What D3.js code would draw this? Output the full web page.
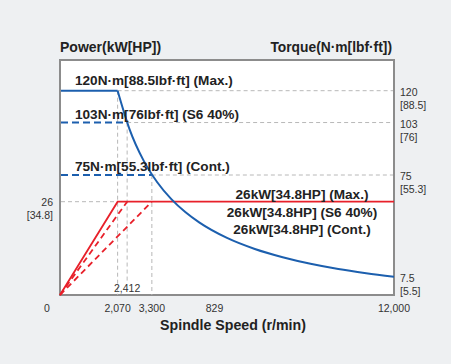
<!DOCTYPE html>
<html><head><meta charset="utf-8">
<script src="https://cdn.jsdelivr.net/npm/d3@7"></script>
<style>
html,body{margin:0;padding:0;background:#eef0f2;}
svg{display:block;font-family:"Liberation Sans",Arial,sans-serif;}
</style></head>
<body><svg id="c" width="451" height="364"></svg>
<script>
// ---- data ----
const speedMax = 12000;
const powerMax = 26;               // kW
const cornerSpeeds = [2070, 2412, 3300];   // Max, S6 40%, Cont.
const torqueLevels = [120, 103, 75];       // N·m
const torqueLabels = ["120N·m[88.5lbf·ft] (Max.)", "103N·m[76lbf·ft] (S6 40%)", "75N·m[55.3lbf·ft] (Cont.)"];
const powerLabels = ["26kW[34.8HP] (Max.)", "26kW[34.8HP] (S6 40%)", "26kW[34.8HP] (Cont.)"];
// torque curve (Max.)
const torqueSpeed = [0, 2070, 2500, 3000, 3500, 4000, 4500, 5000, 6000, 7000, 8000, 9000, 10000, 11000, 12000];
const torqueValue = [120, 120, 99.4, 82.8, 71, 62.1, 55.2, 49.7, 41.4, 35.5, 31.1, 27.6, 24.8, 22.6, 20.7];
const rightTickTop = ["120", "103", "75", "7.5"];
const rightTickBottom = ["[88.5]", "[76]", "[55.3]", "[5.5]"];
const xTickValues = [0, 2070, 3300, 5550, 12000];
const xTickLabels = ["0", "2,070", "3,300", "829", "12,000"];

// ---- layout ----
const svg = d3.select("#c");
const L = 60, R = 394, T = 60, B = 295;
const x = d3.scaleLinear().domain([0, speedMax]).range([L, R]);
const yP = d3.scaleLinear().domain([0, powerMax]).range([B, 201.7]);
const yT = d3.scaleLinear().domain([0, 120]).range([315.5, 90.7]);

const blue = "#1c5fae", red = "#e8202a", grid = "#b8b8b8";

svg.append("rect").attr("x", L).attr("y", T).attr("width", R - L).attr("height", B - T)
  .attr("fill", "#fff").attr("stroke", "#8c8c8c").attr("stroke-width", 2);

const g = svg.append("g");
const dash = "4,3";

// grey reference lines
torqueLevels.forEach((t, i) => {
  g.append("line").attr("x1", x(cornerSpeeds[i])).attr("x2", R - 1)
    .attr("y1", yT(t)).attr("y2", yT(t))
    .attr("stroke", grid).attr("stroke-width", 1).attr("stroke-dasharray", dash);
});
// vertical
[[0, B], [1, 283], [2, B]].forEach(([i, yEnd]) => {
  g.append("line").attr("x1", x(cornerSpeeds[i])).attr("x2", x(cornerSpeeds[i]))
    .attr("y1", yT(torqueLevels[i])).attr("y2", yEnd)
    .attr("stroke", grid).attr("stroke-width", 1).attr("stroke-dasharray", dash);
});
g.append("line").attr("x1", L + 1).attr("x2", x(cornerSpeeds[0]))
  .attr("y1", yP(powerMax)).attr("y2", yP(powerMax))
  .attr("stroke", grid).attr("stroke-width", 1).attr("stroke-dasharray", dash);

// torque level lines
torqueLevels.forEach((t, i) => {
  g.append("line").attr("x1", L + 1).attr("x2", x(cornerSpeeds[i]))
    .attr("y1", yT(t)).attr("y2", yT(t))
    .attr("stroke", blue).attr("stroke-width", 2)
    .attr("stroke-dasharray", i === 0 ? null : "7,4");
});

// power lines
const pl = d3.line().x(d => x(d[0])).y(d => yP(d[1]));
cornerSpeeds.forEach((s, i) => {
  const pts = i === 0 ? [[0, 0], [s, powerMax], [speedMax, powerMax]] : [[0, 0], [s, powerMax]];
  g.append("path").attr("d", pl(pts)).attr("fill", "none")
    .attr("stroke", red).attr("stroke-width", 1.8)
    .attr("stroke-dasharray", i === 0 ? null : "6,4");
});

// torque curve
const tl = d3.line().x(d => x(d[0])).y(d => yT(d[1])).curve(d3.curveMonotoneX);
const tdata = torqueSpeed.map((s, i) => [s, torqueValue[i]]).filter(d => d[0] >= 2070);
g.append("path").attr("d", tl(tdata)).attr("fill", "none")
  .attr("stroke", blue).attr("stroke-width", 2);

// labels
const txt = (xx, yy, s, opt = {}) => svg.append("text").attr("x", xx).attr("y", yy).text(s)
  .attr("font-size", opt.size || 10).attr("font-weight", opt.bold ? "bold" : "normal")
  .attr("fill", opt.fill || "#222").attr("text-anchor", opt.anchor || "start")
  .attr("dominant-baseline", "central");

const tly = [80, 114, 166];
torqueLabels.forEach((s, i) => txt(75, tly[i], s, { size: 13.6, bold: true }));
const ply = [194, 212, 229];
powerLabels.forEach((s, i) => txt(302, ply[i], s, { size: 13.6, bold: true, anchor: "middle" }));

txt(L, 47, "Power(kW[HP])", { size: 14, bold: true });
txt(392, 47, "Torque(N·m[lbf·ft])", { size: 13.8, bold: true, anchor: "end" });
txt(233, 325, "Spindle Speed (r/min)", { size: 14.2, bold: true, anchor: "middle" });

// right ticks
const rightY = [...torqueLevels, torqueValue[torqueValue.length - 1]];
rightTickTop.forEach((s, i) => {
  txt(400, yT(rightY[i]) + 1, s, { size: 10.5, fill: "#333" });
  txt(400, yT(rightY[i]) + 14, rightTickBottom[i], { size: 10.5, fill: "#333" });
});
// left ticks
txt(53, yP(powerMax), "26", { size: 10.5, anchor: "end", fill: "#333" });
txt(53, yP(powerMax) + 13.5, "[34.8]", { size: 10.5, anchor: "end", fill: "#333" });

// x ticks
xTickValues.forEach((v, i) => {
  txt(i === 0 ? 47 : x(v), 308, xTickLabels[i], { size: 10.5, anchor: "middle", fill: "#333" });
});
txt(x(cornerSpeeds[1]), 288, "2,412", { size: 10.5, anchor: "middle", fill: "#333" });
</script></body></html>
